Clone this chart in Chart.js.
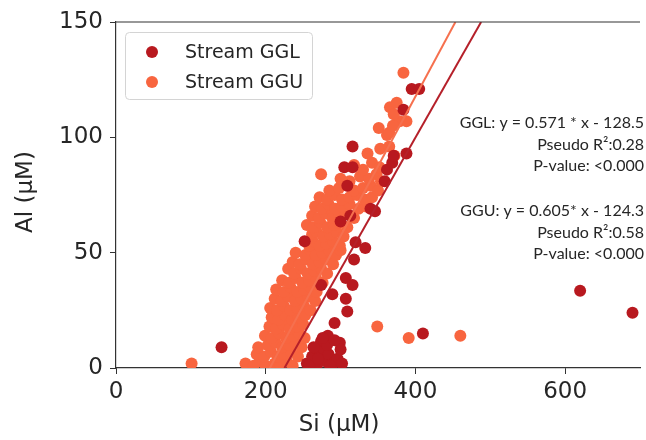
<!DOCTYPE html>
<html>
<head>
<meta charset="utf-8">
<script src="https://cdn.jsdelivr.net/npm/chart.js@4"></script>
<style>
  html, body { margin: 0; padding: 0; background: #fff; }
  #wrap { width: 646px; height: 440px; }
</style>
</head>
<body>
<div id="wrap"><canvas id="chart" width="646" height="440"></canvas></div>
<script>
// Stream GGL (dark red) - Si and Al values
const gglSi = [141, 620, 690, 410, 395, 405, 316, 388, 384, 305, 316, 362, 369, 371, 309, 359, 340, 346, 300,
  313, 252, 320, 333, 318, 307, 316, 274, 307, 289, 309, 292, 283, 299, 274,
  255, 262, 268, 272, 278, 284, 290, 296, 300, 264, 282, 292, 258, 286, 302, 276, 270];
const gglAl = [9, 33.5, 24, 15, 121, 121, 96, 93, 112, 87, 87, 86, 89, 92, 79, 81, 69, 68, 63.5,
  66, 55, 54.5, 52, 47, 39, 36, 36, 30, 32, 24.5, 19.5, 14, 11, 11.6,
  2, 5, 1, 7, 3, 6, 2, 4, 8, 9, 10, 12, 1, 1, 2, 13, 4];

// Stream GGU (orange)
const gguSi = [101, 173, 184, 192, 200, 212, 220, 228, 236,
  188, 198, 207, 216, 225, 234, 243,
  190, 203, 213, 222, 231, 240, 248,
  199, 208, 218, 227, 236, 245, 252,
  205, 214, 223, 232, 241, 250,
  208, 217, 226, 235, 244, 253,
  206, 215, 224, 233, 242, 251, 260,
  212, 221, 230, 239, 248, 257, 266,
  214, 224, 233, 242, 251, 260, 268,
  222, 231, 240, 249, 258, 267, 276,
  230, 238, 247, 256, 265, 274, 282,
  236, 245, 254, 263, 272, 281, 290,
  240, 253, 260, 267, 276, 285, 294, 300,
  258, 263, 272, 281, 290, 299,
  262, 268, 277, 286, 295, 304,
  255, 264, 273, 282, 291, 300, 309,
  262, 271, 280, 289, 298, 307, 318,
  266, 275, 284, 293, 302, 312, 324, 334,
  272, 282, 292, 302, 312, 322, 332, 342,
  285, 298, 310, 318, 330, 340, 350,
  274, 300, 312, 326, 338, 348, 354,
  318, 330, 342, 352,
  336, 353, 365, 372,
  351, 362, 365,
  379, 388, 370,
  366, 375, 371,
  384,
  349, 391, 460];
const gguAl = [2, 2, 1, 3, 1, 2, 1, 3, 1,
  6, 5, 7, 5, 6, 7, 5,
  9, 10, 11, 9, 10, 11, 9,
  14, 13, 15, 13, 14, 15, 13,
  18, 17, 19, 17, 18, 19,
  22, 21, 23, 21, 22, 23,
  26, 25, 27, 25, 26, 27, 25,
  30, 29, 31, 29, 30, 31, 29,
  34, 33, 35, 33, 34, 35, 33,
  38, 37, 39, 37, 38, 39, 37,
  43, 41, 43, 41, 42, 43, 41,
  46, 45, 47, 45, 46, 47, 45,
  50, 49, 51, 49, 50, 51, 49, 51,
  53, 55, 53, 54, 55, 53,
  58, 59, 57, 58, 59, 57,
  62, 61, 63, 61, 62, 63, 61,
  66, 65, 67, 65, 66, 67, 65,
  70, 69, 71, 69, 70, 71, 69, 70,
  74, 73, 75, 73, 74, 75, 73, 74,
  77, 78, 79, 77, 78, 79, 77,
  84, 82, 81, 83, 82, 84, 81,
  88, 86, 89, 87,
  93, 95, 96, 92,
  104, 101, 102,
  107, 107, 105,
  113, 115, 110,
  128,
  18, 13, 14];

// regression fits: slope, intercept
const seriesNames = ['Stream GGL', 'Stream GGU'];
const fitSlopes = [0.571, 0.605];
const fitIntercepts = [-128.5, -124.3];

// axis ticks
const xTickValues = [0, 200, 400, 600];
const yTickValues = [0, 50, 100, 150];

// annotation text
const annotGGL = ['GGL: y = 0.571 * x - 128.5', 'Pseudo R\u00B2:0.28', 'P-value: <0.000'];
const annotGGU = ['GGU: y = 0.605* x - 124.3', 'Pseudo R\u00B2:0.58', 'P-value: <0.000'];

const colors = ['#b8191f', '#f8653f'];
const lineColors = ['#b5202a', '#f6704e'];
const textColor = '#262626';
const tickFont = { family: 'DejaVu Sans', size: 23 };

function toPoints(xs, ys) {
    return xs.map((x, i) => ({ x: x, y: ys[i] }));
}

function fitLine(k) {
    // endpoints where the fit crosses Al = 0 and Al = 150
    const lo = yTickValues[0], hi = yTickValues[yTickValues.length - 1];
    return [
        { x: (lo - fitIntercepts[k]) / fitSlopes[k], y: lo },
        { x: (hi - fitIntercepts[k]) / fitSlopes[k], y: hi }
    ];
}

// legend box inside the plot
const legendBox = {
    id: 'legendBox',
    afterDraw(chart) {
        const ctx = chart.ctx;
        ctx.save();
        ctx.fillStyle = 'rgba(255,255,255,0.85)';
        ctx.strokeStyle = '#d4d4d4';
        ctx.lineWidth = 1;
        ctx.beginPath();
        ctx.roundRect(125.5, 32.5, 187, 67, 4);
        ctx.fill();
        ctx.stroke();
        seriesNames.forEach((name, i) => {
            const y = 52 + i * 30;
            ctx.fillStyle = colors[i];
            ctx.beginPath();
            ctx.arc(152, y, 6, 0, Math.PI * 2);
            ctx.fill();
            ctx.fillStyle = textColor;
            ctx.font = '19px "DejaVu Sans"';
            ctx.textBaseline = 'middle';
            ctx.textAlign = 'left';
            ctx.fillText(name, 185, y + 1);
        });
        ctx.restore();
    }
};

// fit equations on the right, plus axis titles
const textLayer = {
    id: 'textLayer',
    afterDraw(chart) {
        const ctx = chart.ctx;
        ctx.save();
        ctx.fillStyle = textColor;
        ctx.font = '16px Lato';
        ctx.textAlign = 'right';
        ctx.textBaseline = 'middle';
        annotGGL.forEach((t, i) => ctx.fillText(t, 644, 123 + i * 21.5));
        annotGGU.forEach((t, i) => ctx.fillText(t, 644, 211 + i * 21.5));

        ctx.font = '23px "DejaVu Sans"';
        ctx.textAlign = 'center';
        ctx.fillText('Si (\u03BCM)', 339, 425);
        ctx.translate(26, 192);
        ctx.rotate(-Math.PI / 2);
        ctx.fillText('Al (\u03BCM)', 0, 0);
        ctx.restore();
    }
};

// top spine
const topSpine = {
    id: 'topSpine',
    afterDraw(chart) {
        const a = chart.chartArea, ctx = chart.ctx;
        ctx.save();
        ctx.strokeStyle = '#333';
        ctx.lineWidth = 1.2;
        ctx.beginPath();
        ctx.moveTo(a.left, a.top);
        ctx.lineTo(a.right, a.top);
        ctx.stroke();
        ctx.restore();
    }
};

new Chart(document.getElementById('chart').getContext('2d'), {
    type: 'scatter',
    data: {
        datasets: [
            { label: seriesNames[0], data: toPoints(gglSi, gglAl), backgroundColor: colors[0], pointRadius: 6, pointBorderWidth: 0, order: 1 },
            { label: seriesNames[1], data: toPoints(gguSi, gguAl), backgroundColor: colors[1], pointRadius: 6, pointBorderWidth: 0, order: 2 },
            { type: 'line', data: fitLine(0), borderColor: lineColors[0], borderWidth: 2, pointRadius: 0, order: 0 },
            { type: 'line', data: fitLine(1), borderColor: lineColors[1], borderWidth: 2, pointRadius: 0, order: 0 }
        ]
    },
    options: {
        responsive: false,
        animation: false,
        layout: { padding: { top: 22, right: 0, left: 0, bottom: 0 } },
        plugins: { legend: { display: false }, tooltip: { enabled: false } },
        scales: {
            x: {
                type: 'linear', min: 0, max: 700,
                afterBuildTicks: s => { s.ticks = xTickValues.map(v => ({ value: v })); },
                afterFit: s => { s.height = 72; },
                ticks: { font: tickFont, color: textColor, padding: 4 },
                grid: { drawOnChartArea: false, tickLength: 6, tickColor: '#333' },
                border: { color: '#333', width: 1.2 }
            },
            y: {
                type: 'linear', min: 0, max: 150,
                afterBuildTicks: s => { s.ticks = yTickValues.map(v => ({ value: v })); },
                afterFit: s => { s.width = 116; },
                ticks: { font: tickFont, color: textColor, padding: 7 },
                grid: { drawOnChartArea: false, tickLength: 6, tickColor: '#333' },
                border: { color: '#333', width: 1.2 }
            }
        }
    },
    plugins: [legendBox, textLayer, topSpine]
});
</script>
</body>
</html>
